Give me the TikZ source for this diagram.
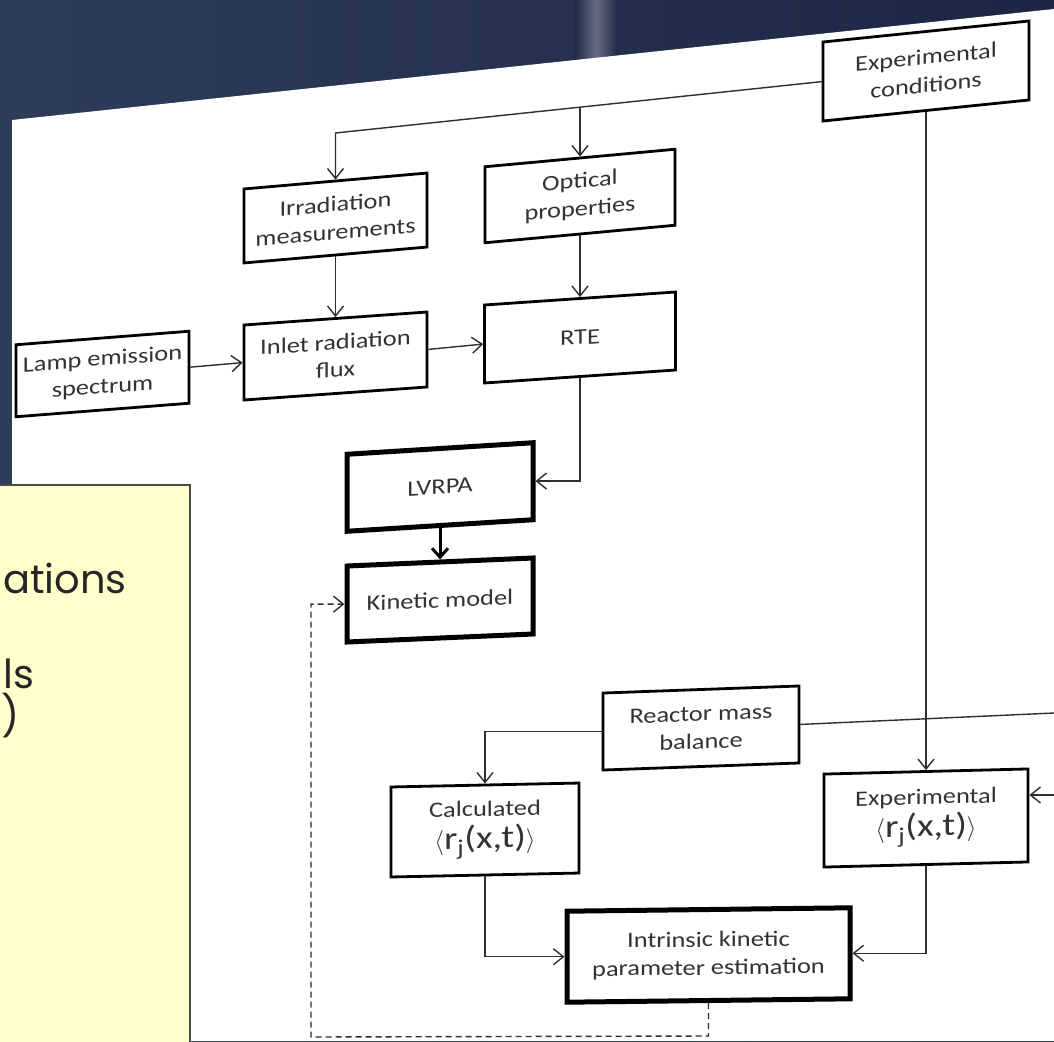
\documentclass[tikz,border=0pt]{standalone}
\usepackage{fontspec}
\setmainfont{Carlito}[FakeStretch=1.2]
\newfontfamily\notefont{Poppins}
\usetikzlibrary{arrows.meta,calc}

\definecolor{slidebg}{HTML}{1C2644}
\definecolor{slidebgl}{HTML}{2F3D5A}
\definecolor{notefill}{HTML}{FFFFCC}
\definecolor{noteline}{HTML}{4A4A4A}
\definecolor{boxtext}{HTML}{333333}
\definecolor{linegray}{HTML}{2E2E2E}

\tikzset{
  block/.style={draw=black, line width=2.8pt, fill=white, text=boxtext,
    align=center, inner sep=2pt, font=\fontsize{22}{28}\selectfont},
  heavy/.style={block, line width=5pt},
  plain/.style={draw=linegray, line width=1.4pt},
  link/.style={plain, -{Straight Barb[length=10pt,width=16pt,line width=1.4pt]}},
  boldlink/.style={draw=black, line width=3pt, -{Straight Barb[length=9pt,width=16pt,line width=3pt]}},
  feedback/.style={link, dash pattern=on 6pt off 4pt},
  notetext/.style={anchor=base west, text=black!85, inner sep=0pt,
    font=\notefont\fontsize{40}{44}\selectfont}
}

\newcommand{\ratej}{{\fontsize{32}{34}\selectfont$\langle$r\textsubscript{j}(x,t)$\rangle$}}

\begin{document}
\begin{tikzpicture}[x=1pt, y=-1pt]
\useasboundingbox (0,0) rectangle (1054,1041);
\clip (0,0) rectangle (1054,1041);

% slide background and tilted page
\shade[left color=slidebgl, right color=slidebg] (0,0) rectangle (1054,1041);
\shade[left color=slidebg, right color=slidebg, middle color=slidebg!55!white, opacity=.7] (574,0) rectangle (618,110);
\fill[white] (12,120) -- (1054,9) -- (1054,1041) -- (12,1041) -- cycle;

% boxes
\node[block, minimum width=206pt, minimum height=79pt, yslant=0.102] (expcond) at (926,71) {Experimental\\conditions};
\node[block, minimum width=183pt, minimum height=74pt, yslant=0.087] (irrad) at (335.5,218) {Irradiation\\measurements};
\node[block, minimum width=190pt, minimum height=76pt, yslant=0.092] (optic) at (580,196) {Optical\\properties};
\node[block, minimum width=173pt, minimum height=72pt, yslant=0.078] (lamp) at (102.5,374) {Lamp emission\\spectrum};
\node[block, minimum width=183pt, minimum height=75pt, yslant=0.071] (inlet) at (335.5,356) {Inlet radiation\\flux};
\node[block, minimum width=191pt, minimum height=78pt, yslant=0.068] (rte) at (580,337.5) {RTE};
\node[heavy, minimum width=186pt, minimum height=77pt, yslant=0.062] (lvrpa) at (440,487) {LVRPA};
\node[heavy, minimum width=186pt, minimum height=76pt, yslant=0.043] (kinetic) at (440,600) {Kinetic model};
\node[block, minimum width=196pt, minimum height=77pt, yslant=0.036] (reactor) at (701,728) {Reactor mass\\balance};
\node[block, minimum width=188pt, minimum height=90pt, yslant=0.021] (calc) at (485,830) {Calculated\\[4pt]\ratej};
\node[block, minimum width=204pt, minimum height=93pt, yslant=0.025] (expr) at (926,818) {Experimental\\[4pt]\ratej};
\node[heavy, minimum width=283pt, minimum height=91pt, yslant=0.012] (intr) at (708.5,955) {Intrinsic kinetic\\parameter estimation};

% connectors
\coordinate (topL) at (335.5,133);
\coordinate (topM) at (580,107);
\coordinate (redgeA) at (1054,713);
\coordinate (redgeB) at (1054,795);
\coordinate (fbR) at (708.5,1036);
\coordinate (fbL) at (311,1037);

\draw[link] (expcond.west) -- (topL) -- (irrad.north);
\draw[link] (topM) -- (optic.north);
\draw[link] (expcond.south) -- (expr.north);
\draw[link] (irrad.south) -- (inlet.north);
\draw[link] (optic.south) -- (rte.north);
\draw[link] (lamp.east) -- (inlet.west);
\draw[link] (inlet.east) -- (rte.west);
\draw[link] (rte.south) |- (lvrpa.east);
\draw[boldlink] (lvrpa.south) -- (kinetic.north);
\draw[link] (reactor.west) -| (calc.north);
\draw[plain] (reactor.east) -- (redgeA);
\draw[link] (redgeB) -- (redgeB -| expr.east);
\draw[link] (calc.south) |- (intr.west);
\draw[link] (expr.south) |- (intr.east);
\draw[feedback] (intr.south) -- (fbR) -- (fbL) |- (kinetic.west);

% note box on the left
\draw[draw=noteline, line width=1.5pt, fill=notefill] (-5,485) rectangle (190,1050);
\node[notetext] (noteA) at (3,593) {ations};
\node[notetext] (noteB) at (3,688) {ls};
\node[notetext] (noteC) at (1,730) {)};
\end{tikzpicture}
\end{document}
